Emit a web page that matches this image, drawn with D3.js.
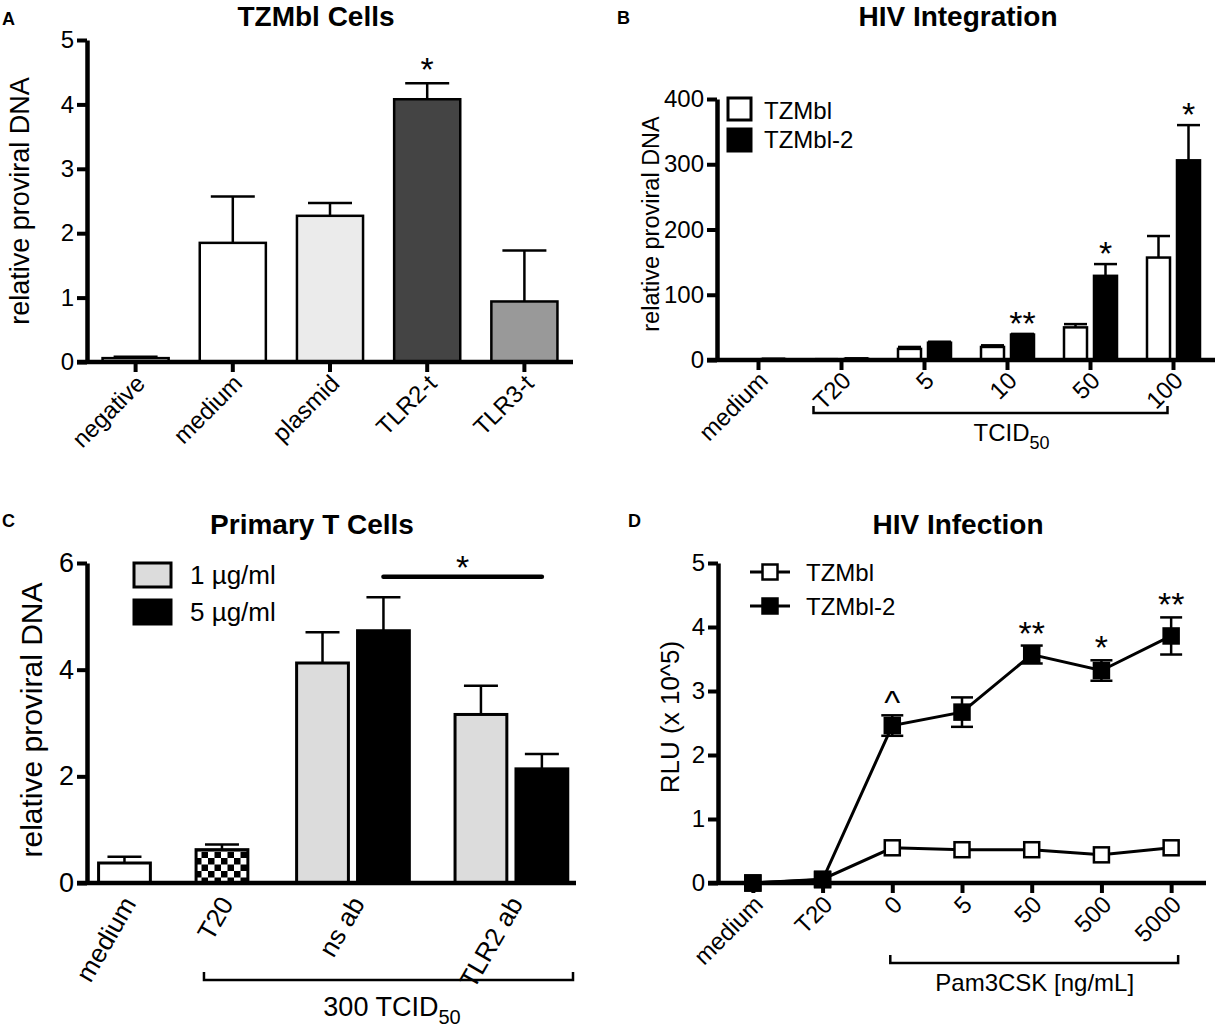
<!DOCTYPE html>
<html>
<head>
<script src="https://d3js.org/d3.v7.min.js"></script>
<style>
  body { margin: 0; background: #fff; }
  text { font-family: "Liberation Sans", Arial, sans-serif; fill: #000; }
</style>
</head>
<body>
<div id="chart"></div>
<script>
  // ---- Panel A: TZMbl Cells
  const aCats = ["negative", "medium", "plasmid", "TLR2-t", "TLR3-t"];
  const aVals = [0.06, 1.85, 2.27, 4.08, 0.94];
  const aErr = [0.02, 0.72, 0.2, 0.25, 0.79];
  const aFill = ["#ffffff", "#ffffff", "#ebebeb", "#444444", "#999999"];
  const aMarks = ["", "", "", "*", ""];
  const aTicks = [0, 1, 2, 3, 4, 5];

  // ---- Panel B: HIV Integration
  const bCats = ["medium", "T20", "5", "10", "50", "100"];
  const bSeries = ["TZMbl", "TZMbl-2"];
  const bTZMbl = [0.5, 1, 17, 20, 50, 157];
  const bTZMblErr = [0.3, 0.3, 3, 2.5, 5, 33];
  const bTZMbl2 = [1.5, 2, 26.5, 39, 129, 306];
  const bTZMbl2Err = [0.3, 0.5, 1.5, 1, 18, 54];
  const bMarks = ["", "", "", "**", "*", "*"];
  const bTicks = [0, 100, 200, 300, 400];

  // ---- Panel C: Primary T Cells
  const cCats = ["medium", "T20", "ns ab", "TLR2 ab"];
  const cCatSlot = [0, 1.6, 3.75, 6.35];      // group centre, in bar-slot units
  const cBarCat = ["medium", "T20", "ns ab", "ns ab", "TLR2 ab", "TLR2 ab"];
  const cBarDose = ["none", "T20", "1 µg/ml", "5 µg/ml", "1 µg/ml", "5 µg/ml"];
  const cBarVals = [0.375, 0.625, 4.125, 4.73, 3.16, 2.14];
  const cBarErr = [0.115, 0.095, 0.575, 0.63, 0.54, 0.28];
  const cLegend = ["1 µg/ml", "5 µg/ml"];
  const cTicks = [0, 2, 4, 6];
  const cSigLevel = 5.74;

  // ---- Panel D: HIV Infection
  const dCats = ["medium", "T20", "0", "5", "50", "500", "5000"];
  const dTZMbl = [0, 0.06, 0.55, 0.52, 0.52, 0.44, 0.55];
  const dTZMblErr = [0, 0, 0.03, 0.02, 0.02, 0.03, 0.03];
  const dTZMbl2 = [0, 0.05, 2.46, 2.67, 3.57, 3.32, 3.86];
  const dTZMbl2Err = [0, 0.02, 0.16, 0.23, 0.14, 0.16, 0.29];
  const dMarks = ["", "", "^", "", "**", "*", "**"];
  const dTicks = [0, 1, 2, 3, 4, 5];

  const STAR = 34;

  const svg = d3.select("#chart").append("svg")
    .attr("width", 1216)
    .attr("height", 1028);

  const defs = svg.append("defs");
  const pat = defs.append("pattern")
    .attr("id", "checker")
    .attr("patternUnits", "userSpaceOnUse")
    .attr("width", 13).attr("height", 13);
  pat.append("rect").attr("width", 13).attr("height", 13).attr("fill", "#fff");
  pat.append("rect").attr("width", 6.5).attr("height", 6.5).attr("fill", "#000");
  pat.append("rect").attr("x", 6.5).attr("y", 6.5).attr("width", 6.5).attr("height", 6.5).attr("fill", "#000");

  function yAxis(x0, y, ticks, fs) {
    const ax = svg.append("g")
      .attr("transform", `translate(${x0},0)`)
      .call(d3.axisLeft(y).tickValues(ticks).tickFormat(d3.format("d"))
        .tickSize(10).tickSizeOuter(0).tickPadding(3));
    ax.select(".domain").attr("stroke", "#000").attr("stroke-width", 4.5);
    ax.selectAll(".tick line").attr("stroke", "#000").attr("stroke-width", 4);
    ax.selectAll(".tick text")
      .attr("font-size", fs)
      .attr("font-family", '"Liberation Sans", Arial, sans-serif')
      .attr("fill", "#000");
  }

  function xAxis(y0, xStart, xEnd, scale, opt) {
    let axis = d3.axisBottom(scale).tickSize(opt.tick).tickSizeOuter(0);
    if (opt.values) axis = axis.tickValues(opt.values).tickFormat(opt.format);
    const ax = svg.append("g")
      .attr("transform", `translate(0,${y0})`)
      .call(axis);
    ax.select(".domain").remove();
    ax.selectAll(".tick line").attr("stroke", "#000").attr("stroke-width", 4);
    ax.selectAll(".tick text")
      .attr("x", 0).attr("y", 0).attr("dy", "0.35em")
      .attr("transform", `translate(${opt.dx},${opt.dy}) rotate(${opt.angle})`)
      .style("text-anchor", "end")
      .attr("font-size", opt.fs)
      .attr("font-family", '"Liberation Sans", Arial, sans-serif')
      .attr("fill", "#000");
    svg.append("line")
      .attr("x1", xStart).attr("x2", xEnd)
      .attr("y1", y0).attr("y2", y0)
      .attr("stroke", "#000").attr("stroke-width", 4.5);
  }

  function errBar(cx, yTop, yBase, cap) {
    svg.append("line").attr("x1", cx).attr("x2", cx).attr("y1", yBase).attr("y2", yTop)
      .attr("stroke", "#000").attr("stroke-width", 2.5);
    svg.append("line").attr("x1", cx - cap / 2).attr("x2", cx + cap / 2).attr("y1", yTop).attr("y2", yTop)
      .attr("stroke", "#000").attr("stroke-width", 2.5);
  }

  function label(x, y, txt, fs, opts = {}) {
    const t = svg.append("text")
      .attr("x", x).attr("y", y)
      .attr("font-size", fs)
      .attr("text-anchor", opts.anchor || "middle")
      .attr("font-weight", opts.bold ? "bold" : null)
      .text(txt);
    return t;
  }

  function yTitle(cx, cy, txt, fs) {
    svg.append("text")
      .attr("transform", `translate(${cx},${cy}) rotate(-90)`)
      .attr("text-anchor", "middle")
      .attr("dy", "0.35em")
      .attr("font-size", fs)
      .text(txt);
  }

  function bracket(x1, x2, y, h) {
    svg.append("path")
      .attr("d", `M${x1},${y - h}V${y}H${x2}V${y - h}`)
      .attr("fill", "none").attr("stroke", "#000").attr("stroke-width", 2.5);
  }

  // ================= Panel A =================
  const yA = d3.scaleLinear().domain([0, 5]).range([362, 40]);
  const xA = d3.scaleBand().domain(aCats).range([87, 573]).paddingInner(0.32).paddingOuter(0.16);

  svg.selectAll(".barA")
    .data(aCats)
    .join("rect")
    .attr("class", "barA")
    .attr("x", d => xA(d))
    .attr("y", (d, i) => yA(aVals[i]))
    .attr("width", xA.bandwidth())
    .attr("height", (d, i) => yA(0) - yA(aVals[i]))
    .attr("fill", (d, i) => aFill[i])
    .attr("stroke", "#000").attr("stroke-width", 2.5);

  aCats.forEach((c, i) => {
    const cx = xA(c) + xA.bandwidth() / 2;
    errBar(cx, yA(aVals[i] + aErr[i]), yA(aVals[i]), 44);
    if (aMarks[i]) label(cx, yA(aVals[i] + aErr[i]) - 2, aMarks[i], STAR);
  });

  yAxis(87, yA, aTicks, 24);
  xAxis(362, 77, 573, xA, { tick: 10, dx: 5, dy: 17, angle: -45, fs: 24 });
  yTitle(20, 201, "relative proviral DNA", 27);
  label(316, 26, "TZMbl Cells", 28, { bold: true });
  label(2, 25, "A", 18, { bold: true, anchor: "start" });

  // ================= Panel B =================
  const yB = d3.scaleLinear().domain([0, 400]).range([360, 99]);
  const xB = d3.scaleBand().domain(bCats).range([717, 1215]).padding(0);
  const bw0 = xB.bandwidth();
  const xBs = d3.scaleBand().domain(bSeries).range([bw0 / 2 - 26.5, bw0 / 2 + 26.5]).paddingInner(0.233).paddingOuter(0);
  const bData = [bTZMbl, bTZMbl2];
  const bErr = [bTZMblErr, bTZMbl2Err];
  const bFill = ["#ffffff", "#000000"];

  bSeries.forEach((s, si) => {
    svg.selectAll(".barB" + si)
      .data(bCats)
      .join("rect")
      .attr("class", "barB" + si)
      .attr("x", d => xB(d) + xBs(s))
      .attr("y", (d, i) => yB(bData[si][i]))
      .attr("width", xBs.bandwidth())
      .attr("height", (d, i) => yB(0) - yB(bData[si][i]))
      .attr("fill", bFill[si])
      .attr("stroke", "#000").attr("stroke-width", 2.5);
    bCats.forEach((c, i) => {
      const cx = xB(c) + xBs(s) + xBs.bandwidth() / 2;
      errBar(cx, yB(bData[si][i] + bErr[si][i]), yB(bData[si][i]), xBs.bandwidth());
    });
  });
  bCats.forEach((c, i) => {
    if (!bMarks[i]) return;
    const cx = xB(c) + xBs("TZMbl-2") + xBs.bandwidth() / 2;
    label(cx, yB(bTZMbl2[i] + bTZMbl2Err[i]) + 1, bMarks[i], STAR);
  });

  yAxis(717, yB, bTicks, 24);
  xAxis(360, 707, 1215, xB, { tick: 10, dx: 5, dy: 16, angle: -45, fs: 24 });
  yTitle(651, 224, "relative proviral DNA", 23.5);
  label(958, 26, "HIV Integration", 28, { bold: true });
  label(617, 24, "B", 18, { bold: true, anchor: "start" });

  // legend B
  bSeries.forEach((s, i) => {
    svg.append("rect")
      .attr("x", 728).attr("y", 98 + i * 31)
      .attr("width", 23).attr("height", 22)
      .attr("fill", bFill[i]).attr("stroke", "#000").attr("stroke-width", 3);
    label(764, 119 + i * 29, s, 24, { anchor: "start" });
  });

  bracket(xB("T20") + bw0 / 2 - 28, xB("100") + bw0 / 2 - 6, 413, 7);
  const tc = label((xB("T20") + xB("100") + bw0) / 2 + 4, 441, "TCID", 24);
  tc.append("tspan").attr("font-size", 18).attr("dy", 8).text("50");

  // ================= Panel C =================
  const yC = d3.scaleLinear().domain([0, 6]).range([883, 563]);
  const xC = d3.scaleLinear().domain([-0.615, 7.41]).range([87, 576]);
  const cBarW = xC(0.85) - xC(0);
  const cFill = { "none": "#ffffff", "T20": "url(#checker)", "1 µg/ml": "#dcdcdc", "5 µg/ml": "#000000" };
  const cBarSlot = cBarCat.map((c, i) => {
    const centre = cCatSlot[cCats.indexOf(c)];
    const n = cBarCat.filter(d => d === c).length;
    if (n === 1) return centre;
    return centre + (cBarCat.indexOf(c) === i ? -0.5 : 0.5);
  });

  svg.selectAll(".barC")
    .data(cBarVals)
    .join("rect")
    .attr("class", "barC")
    .attr("x", (d, i) => xC(cBarSlot[i]) - cBarW / 2)
    .attr("y", d => yC(d))
    .attr("width", cBarW)
    .attr("height", d => yC(0) - yC(d))
    .attr("fill", (d, i) => cFill[cBarDose[i]])
    .attr("stroke", "#000").attr("stroke-width", 3);

  cBarVals.forEach((v, i) => {
    errBar(xC(cBarSlot[i]), yC(v + cBarErr[i]), yC(v), 34);
  });

  // significance line ns ab (5) vs TLR2 ab (5)
  svg.append("line")
    .attr("x1", xC(cBarSlot[3])).attr("x2", xC(cBarSlot[5]))
    .attr("y1", yC(cSigLevel)).attr("y2", yC(cSigLevel))
    .attr("stroke", "#000").attr("stroke-width", 4.5).attr("stroke-linecap", "round");
  label((xC(cBarSlot[3]) + xC(cBarSlot[5])) / 2, yC(cSigLevel) + 2, "*", STAR);

  yAxis(87, yC, cTicks, 27);
  xAxis(883, 77, 576, xC, {
    tick: 0, dx: 4, dy: 16, angle: -60, fs: 26,
    values: cCatSlot, format: (d, i) => cCats[i]
  });
  yTitle(31, 720, "relative proviral DNA", 30);
  label(312, 534, "Primary T Cells", 28, { bold: true });
  label(2, 527, "C", 18, { bold: true, anchor: "start" });

  cLegend.forEach((s, i) => {
    svg.append("rect")
      .attr("x", 134).attr("y", 563 + i * 37)
      .attr("width", 37).attr("height", 24)
      .attr("fill", cFill[s]).attr("stroke", "#000").attr("stroke-width", 3);
    label(190, 584 + i * 37, s, 26, { anchor: "start" });
  });

  bracket(xC(cCatSlot[1]) - 18, 573, 980, 8);
  const tc2 = label(392, 1016, "300 TCID", 27);
  tc2.append("tspan").attr("font-size", 20).attr("dy", 8).text("50");

  // ================= Panel D =================
  const yD = d3.scaleLinear().domain([0, 5]).range([883, 563]);
  const xD = d3.scalePoint().domain(dCats).range([718, 1206]).padding(0.5);
  const line = d3.line().x((d, i) => xD(dCats[i])).y(d => yD(d));
  const sq = 15;

  function drawSeries(vals, errs, fill) {
    svg.append("path").datum(vals)
      .attr("d", line)
      .attr("fill", "none").attr("stroke", "#000").attr("stroke-width", 3);
    vals.forEach((v, i) => {
      if (errs[i] > 0.05) {
        const cx = xD(dCats[i]);
        svg.append("line").attr("x1", cx).attr("x2", cx)
          .attr("y1", yD(v - errs[i])).attr("y2", yD(v + errs[i]))
          .attr("stroke", "#000").attr("stroke-width", 2.5);
        [v - errs[i], v + errs[i]].forEach(e => {
          svg.append("line").attr("x1", cx - 11).attr("x2", cx + 11)
            .attr("y1", yD(e)).attr("y2", yD(e))
            .attr("stroke", "#000").attr("stroke-width", 2.5);
        });
      }
    });
    svg.selectAll(null)
      .data(vals)
      .join("rect")
      .attr("x", (d, i) => xD(dCats[i]) - sq / 2)
      .attr("y", d => yD(d) - sq / 2)
      .attr("width", sq).attr("height", sq)
      .attr("fill", fill)
      .attr("stroke", "#000").attr("stroke-width", 2.5);
  }

  drawSeries(dTZMbl, dTZMblErr, "#fff");
  drawSeries(dTZMbl2, dTZMbl2Err, "#000");

  dCats.forEach((c, i) => {
    if (!dMarks[i]) return;
    label(xD(c), yD(dTZMbl2[i] + dTZMbl2Err[i]) - 1, dMarks[i], STAR);
  });

  yAxis(718, yD, dTicks, 24);
  xAxis(883, 708, 1206, xD, { tick: 10, dx: 5, dy: 17, angle: -45, fs: 24 });
  yTitle(670, 717, "RLU (x 10^5)", 26);
  label(958, 534, "HIV Infection", 28, { bold: true });
  label(628, 527, "D", 18, { bold: true, anchor: "start" });

  // legend D
  [["TZMbl", "#fff"], ["TZMbl-2", "#000"]].forEach(([s, f], i) => {
    const ly = 572 + i * 34;
    svg.append("line").attr("x1", 750).attr("x2", 790).attr("y1", ly).attr("y2", ly)
      .attr("stroke", "#000").attr("stroke-width", 3);
    svg.append("rect").attr("x", 770 - sq / 2).attr("y", ly - sq / 2)
      .attr("width", sq).attr("height", sq)
      .attr("fill", f).attr("stroke", "#000").attr("stroke-width", 2.5);
    label(806, ly + 9, s, 24, { anchor: "start" });
  });

  bracket(xD("0") - 2, xD("5000") + 7, 963, 8);
  label((xD("0") + xD("5000")) / 2 + 3, 991, "Pam3CSK [ng/mL]", 24);
</script>
</body>
</html>
